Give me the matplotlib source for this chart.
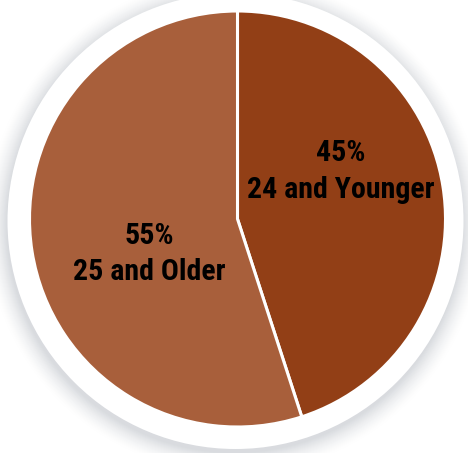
import matplotlib.pyplot as plt
from matplotlib.patches import Circle
import numpy as np

# data
labels = ['24 and Younger', '25 and Older']
shares = [45, 55]
colors = ['#923f16', '#a85f3b']

W, H = 468, 453
fig = plt.figure(figsize=(W / 100, H / 100), dpi=100)
ax = fig.add_axes([0, 0, 1, 1])

cx, cy = 237.5, 234
r_pie = 208
wx, wy = 235.5, 232
r_white = 228

# soft grey shadow behind the white disc, fading outwards
edge = np.array([0.85, 0.86, 0.875])
steps = 24
for i in range(steps):
    t = i / (steps - 1)          # 0 outer -> 1 inner
    col = 1 - (1 - edge) * t ** 1.6
    r = r_white + 22 * (1 - t)
    ax.add_patch(Circle((wx - 1, wy - 4), r, color=tuple(col), lw=0, zorder=1))
ax.add_patch(Circle((wx, wy), r_white, color='white', lw=0, zorder=2))

wedges, _ = ax.pie(shares, colors=colors, startangle=90, counterclock=False,
                   center=(cx, cy), radius=r_pie,
                   wedgeprops=dict(edgecolor='white', linewidth=2.2))
for w in wedges:
    w.set_zorder(3)
ax.set_xlim(0, W)
ax.set_ylim(0, H)
ax.set_aspect('equal')
ax.axis('off')

font = dict(family=['Roboto Condensed', 'DejaVu Sans'], fontweight='bold',
            fontsize=21.5, color='black', ha='center', va='center', zorder=5)
ax.text(341, H - 153, f'{shares[0]}%', **font)
ax.text(341, H - 190, labels[0], **font)
ax.text(149, H - 236, f'{shares[1]}%', **font)
ax.text(149, H - 272, labels[1], **font)

fig.savefig('out.png', dpi=100)
